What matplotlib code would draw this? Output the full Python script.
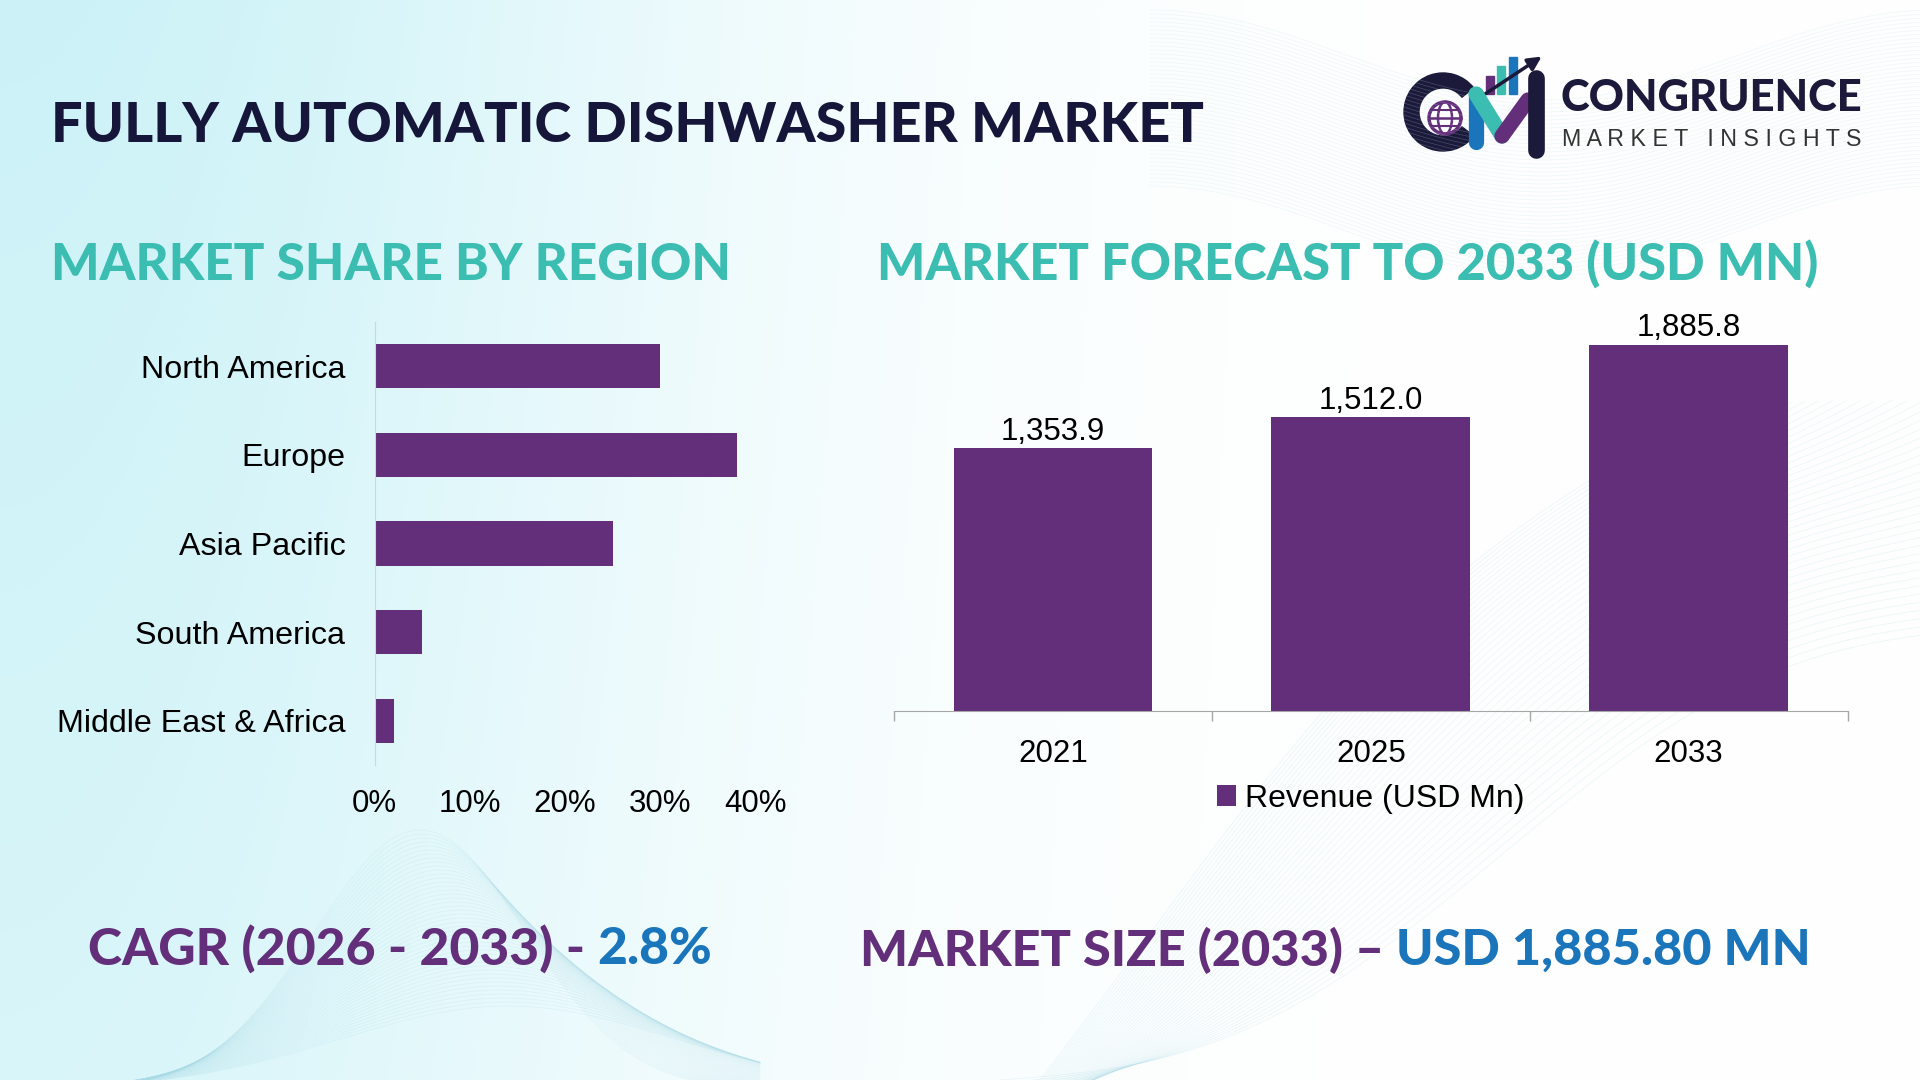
import numpy as np
import matplotlib.pyplot as plt
from matplotlib.patches import Circle, Ellipse, Wedge, Rectangle, FancyArrowPatch

# data
regions = ["North America", "Europe", "Asia Pacific", "South America", "Middle East & Africa"]
shares = [0.30, 0.38, 0.25, 0.05, 0.02]
share_ticks = [0.0, 0.1, 0.2, 0.3, 0.4]
share_tick_labels = ["0%", "10%", "20%", "30%", "40%"]

years = ["2021", "2025", "2033"]
revenue = [1353.9, 1512.0, 1885.8]
legend_label = "Revenue (USD Mn)"

title = "FULLY AUTOMATIC DISHWASHER MARKET"
sub_left = "MARKET SHARE BY REGION"
sub_right = "MARKET FORECAST TO 2033 (USD MN)"
cagr_a, cagr_b = "CAGR (2026 - 2033) - ", "2.8%"
size_a, size_b = "MARKET SIZE (2033) \u2013 ", "USD 1,885.80 MN"

# colours
PURPLE = "#632e7a"
TEAL = "#3bbdb2"
NAVY = "#16163a"
BLUE = "#1b75bb"
HEAD_FONT = ["Lato", "DejaVu Sans"]
BODY_FONT = ["Liberation Sans", "DejaVu Sans"]

W, H = 1920, 1080
fig = plt.figure(figsize=(19.2, 10.8), dpi=100)

# background: cyan wash on the left + faint wave lines
bg = fig.add_axes([0, 0, 1, 1], zorder=-10)
gx, gy = np.meshgrid(np.linspace(0, 1, 480), np.linspace(0, 1, 270))
t = np.exp(-(gx / 0.36) ** 2) * (0.75 + 0.25 * (1 - gy))
cyan = np.array([0.80, 0.95, 0.97])
img = 1 - t[..., None] * (1 - cyan)
bg.imshow(img, extent=[0, W, H, 0], aspect="auto")
bg.set_xlim(0, W)
bg.set_ylim(H, 0)
bg.axis("off")

for k in range(45):
    # bottom-left mound
    xs = np.linspace(120, 760, 200)
    amp = 260 - k * 4
    ys = 1090 - amp * np.exp(-((xs - 420 - k * 2) / (150 + k * 2)) ** 2)
    bg.plot(xs, ys, color="#a9dbe7", lw=0.5, alpha=0.25)
    # bottom-right sweep
    xs = np.linspace(1000, 1920, 200)
    ys = 1080 - (xs - 1000) * (0.45 + k * 0.012) + 60 * np.sin((xs - 1000) / 160 + k * 0.05)
    ys = np.where(ys < 400, np.nan, ys)
    bg.plot(xs, ys, color="#a9dbe7", lw=0.5, alpha=0.25)
    # top-right sweep
    xs = np.linspace(1150, 1920, 200)
    ys = 10 + k * 4 + 90 * np.sin((xs - 1150) / 250) ** 2
    bg.plot(xs, ys, color="#b9e2ec", lw=0.5, alpha=0.25)

renderer = fig.canvas.get_renderer()


def fit_text(x, y, s, width_px, **kw):
    txt = fig.text(x / W, 1 - y / H, s, fontsize=40, va="center", ha="left", **kw)
    w = txt.get_window_extent(renderer).width
    txt.set_fontsize(40 * width_px / w)
    return txt


def two_tone(x, y, a, b, width_px, c1, c2):
    t1 = fit_text(x, y, a + b, width_px, color=c1, family=HEAD_FONT, weight="black")
    t1.set_text(a)
    x1 = t1.get_window_extent(renderer).x1
    fig.text(x1 / W, 1 - y / H, b, fontsize=t1.get_fontsize(), va="center", ha="left",
             color=c2, family=HEAD_FONT, weight="black")


# headings
fit_text(51, 126, title, 1152, color=NAVY, family=HEAD_FONT, weight="black")
fit_text(51, 265, sub_left, 680, color=TEAL, family=HEAD_FONT, weight="black")
fit_text(877, 265, sub_right, 941, color=TEAL, family=HEAD_FONT, weight="black")
two_tone(88, 950, cagr_a, cagr_b, 623, PURPLE, BLUE)
two_tone(860, 950, size_a, size_b, 950, PURPLE, BLUE)

# logo
bg.add_patch(Wedge((1443, 112), 39, 38, 322, width=15, color="#1c1a3a"))
bg.add_patch(Circle((1445, 118), 16, fc="white", ec=PURPLE, lw=2.5))
bg.add_patch(Ellipse((1445, 118), 14, 32, fc="none", ec=PURPLE, lw=1.8))
bg.plot([1429, 1461], [118, 118], color=PURPLE, lw=1.8)
bg.plot([1432, 1458], [110, 110], color=PURPLE, lw=1.5)
bg.plot([1432, 1458], [126, 126], color=PURPLE, lw=1.5)
bg.plot([1476, 1476], [94, 142], color=BLUE, lw=11, solid_capstyle="round")
bg.plot([1476, 1502], [94, 136], color=TEAL, lw=11, solid_capstyle="round")
bg.plot([1502, 1528], [136, 100], color=PURPLE, lw=11, solid_capstyle="round")
bg.plot([1536, 1536], [78, 150], color="#1c1a3a", lw=12, solid_capstyle="round")
bg.add_patch(Rectangle((1486, 76), 8, 18, color=PURPLE))
bg.add_patch(Rectangle((1497, 66), 8, 28, color=TEAL))
bg.add_patch(Rectangle((1509, 57), 8, 37, color=BLUE))
bg.add_patch(FancyArrowPatch((1470, 104), (1544, 55), arrowstyle="-|>", mutation_scale=20,
                             color="#1c1a3a", lw=2.5))
fit_text(1561, 98, "CONGRUENCE", 302, color="#1c1a3a", family=HEAD_FONT, weight="black")
fit_text(1562, 139, "M A R K E T   I N S I G H T S", 298, color="#333333", family=BODY_FONT)

# left chart: market share by region
ax1 = fig.add_axes([374.5 / W, 1 - 765 / H, (755.7 - 374.5) / W, 443 / H])
ax1.patch.set_alpha(0)
ypos = np.arange(len(regions))
ax1.barh(ypos, shares, height=0.5, color=PURPLE)
ax1.set_ylim(len(regions) - 0.5, -0.5)
ax1.set_xlim(0, 0.4)
ax1.set_yticks(ypos, regions)
ax1.set_xticks(share_ticks, share_tick_labels)
for s in ["top", "right", "bottom"]:
    ax1.spines[s].set_visible(False)
ax1.spines["left"].set_color("#d4d4d4")
ax1.tick_params(axis="x", length=0, pad=17, labelsize=22.5)
ax1.tick_params(axis="y", length=0, pad=21, labelsize=23.2)
for lab in ax1.get_xticklabels() + ax1.get_yticklabels():
    lab.set_family(BODY_FONT)

# right chart: forecast
ax2 = fig.add_axes([894 / W, 1 - 711 / H, 953.5 / W, 388.4 / H])
ax2.patch.set_alpha(0)
xpos = np.arange(len(years))
bars = ax2.bar(xpos, revenue, width=0.625, color=PURPLE, label=legend_label)
ax2.bar_label(bars, labels=[f"{v:,.1f}" for v in revenue], padding=1,
              fontsize=22.5, family=BODY_FONT)
ax2.set_xlim(-0.5, len(years) - 0.5)
ax2.set_ylim(0, 2000)
ax2.set_xticks(xpos, years)
ax2.set_xticks(np.arange(len(years) + 1) - 0.5, minor=True)
ax2.set_yticks([])
for s in ["top", "right", "left"]:
    ax2.spines[s].set_visible(False)
ax2.spines["bottom"].set_color("#a6a6a6")
ax2.tick_params(axis="x", which="major", length=0, pad=20, labelsize=22.5)
ax2.tick_params(axis="x", which="minor", length=7, width=1, color="#a6a6a6")
for lab in ax2.get_xticklabels():
    lab.set_family(BODY_FONT)
ax2.legend(loc="center", bbox_to_anchor=(0.5, -0.226), frameon=False,
           handlelength=0.6, handleheight=0.6, handletextpad=0.3,
           prop={"family": BODY_FONT, "size": 23})

fig.savefig("out.png", dpi=100)
